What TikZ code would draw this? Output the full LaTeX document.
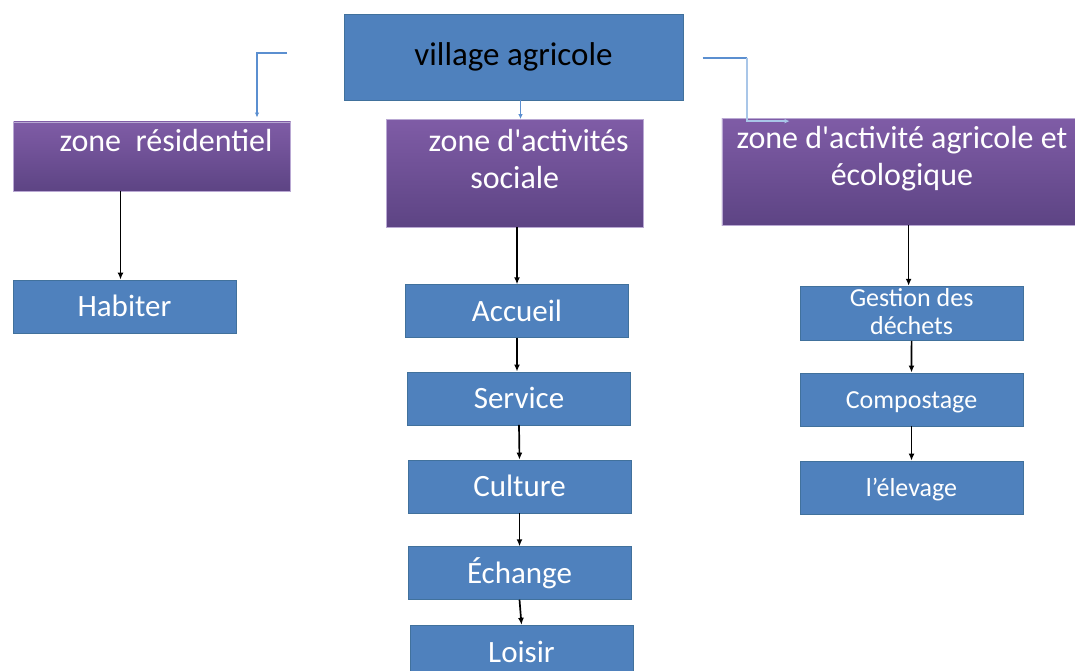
\documentclass[tikz,border=0pt]{standalone}
\usepackage{fontspec}
\setmainfont{Carlito}
\usetikzlibrary{arrows.meta}
\definecolor{boxblue}{HTML}{4F81BD}
\definecolor{boxline}{HTML}{41719C}
\definecolor{zonetop}{HTML}{7F5CA6}
\definecolor{zonebot}{HTML}{5D4484}
\definecolor{zoneline}{HTML}{B9A8D3}
\definecolor{linkblue}{HTML}{5B8FD0}
\definecolor{linklight}{HTML}{A9C6E8}
\tikzset{
  zonebox/.style={draw=zoneline, top color=zonetop, bottom color=zonebot, text=white,
    inner sep=0pt, align=center, font=\fontsize{32}{37}\selectfont},
  taskbox/.style={draw=boxline, fill=boxblue, text=white, inner sep=0pt,
    minimum width=223pt, minimum height=53pt, text height=21pt, text depth=0pt,
    font=\fontsize{31}{36}\selectfont},
  sidebox/.style={taskbox, text height=18pt, font=\fontsize{26}{28}\selectfont},
  arr/.style={-{Latex[length=7pt,width=6pt]}, black, line width=1.7pt},
  link/.style={-{Latex[length=5pt,width=4.5pt]}, linkblue, line width=1.8pt},
}

\begin{document}
\begin{tikzpicture}[x=1pt,y=-1pt]
\useasboundingbox (0,0) rectangle (1075,670);
%top
\node[draw=boxline, fill=boxblue, inner sep=0pt, minimum width=339pt, minimum height=86pt,
  font=\fontsize{33}{38}\selectfont] (village) at (513.5,57) {village agricole};

%zones
\node[zonebox, minimum width=277pt, text height=30pt, text depth=39.3pt] (zres) at (152,156.4)
  {\hspace*{28pt}zone\ \ résidentiel};
\node[zonebox, minimum width=257pt, text height=69pt, text depth=38.4pt] (zsoc) at (514.7,173)
  {\hspace*{28pt}zone d\textquotesingle activités\\sociale};
\node[zonebox, minimum width=360pt, text height=66.7pt, text depth=40pt] (zagri) at (901.9,171.7)
  {zone d\textquotesingle activité agricole et\\écologique};

%tasks
%zone résidentiel
\node[taskbox] (habiter) at (124.5,306.3) {Habiter};
%zone sociale
\node[taskbox] (accueil) at (517,311) {Accueil};
\node[taskbox] (service) at (519,398.2) {Service};
\node[taskbox] (culture) at (519.5,486.3) {Culture};
\node[taskbox] (echange) at (519.5,573) {Échange};
\node[taskbox] (loisir) at (521.5,651.5) {Loisir};
%zone agricole
\node[sidebox, align=center, text height=48.5pt, text depth=6.2pt] (gestion) at (911.6,313.3)
  {Gestion des\\déchets};
\node[sidebox] (compost) at (911.5,399.2) {Compostage};
\node[sidebox] (elevage) at (911.5,487.3) {l’élevage};

%links from the village
\coordinate (lstart) at (287,53.3);
\coordinate (rstart) at (702.7,57.7);
\coordinate (rcorner) at (747.3,57.7);
\draw[link] (lstart) -| ([shift={(105pt,4pt)}]zres.north);
\draw[link] ([xshift=7pt]village.south) -- ([xshift=7pt]village.south |- zsoc.north);
\draw[link, -] (rstart) -- (rcorner);
\draw[link, linklight] (rcorner) |- ([shift={(68pt,-3pt)}]zagri.north west);

%arrows
\draw[arr] ([xshift=-4pt]habiter.north |- zres.south) -- ([xshift=-4pt]habiter.north);
\draw[arr] (accueil.north |- zsoc.south) -- (accueil.north);
\draw[arr] (accueil.south) -- (accueil.south |- service.north);
\draw[arr] (service.south) -- (culture.north);
\draw[arr] (culture.south) -- (echange.north);
\draw[arr] (echange.south) -- (loisir.north);
\draw[arr] ([xshift=-3pt]gestion.north |- zagri.south) -- ([xshift=-3pt]gestion.north);
\draw[arr] (gestion.south) -- (compost.north);
\draw[arr] (compost.south) -- (elevage.north);
\end{tikzpicture}
\end{document}
